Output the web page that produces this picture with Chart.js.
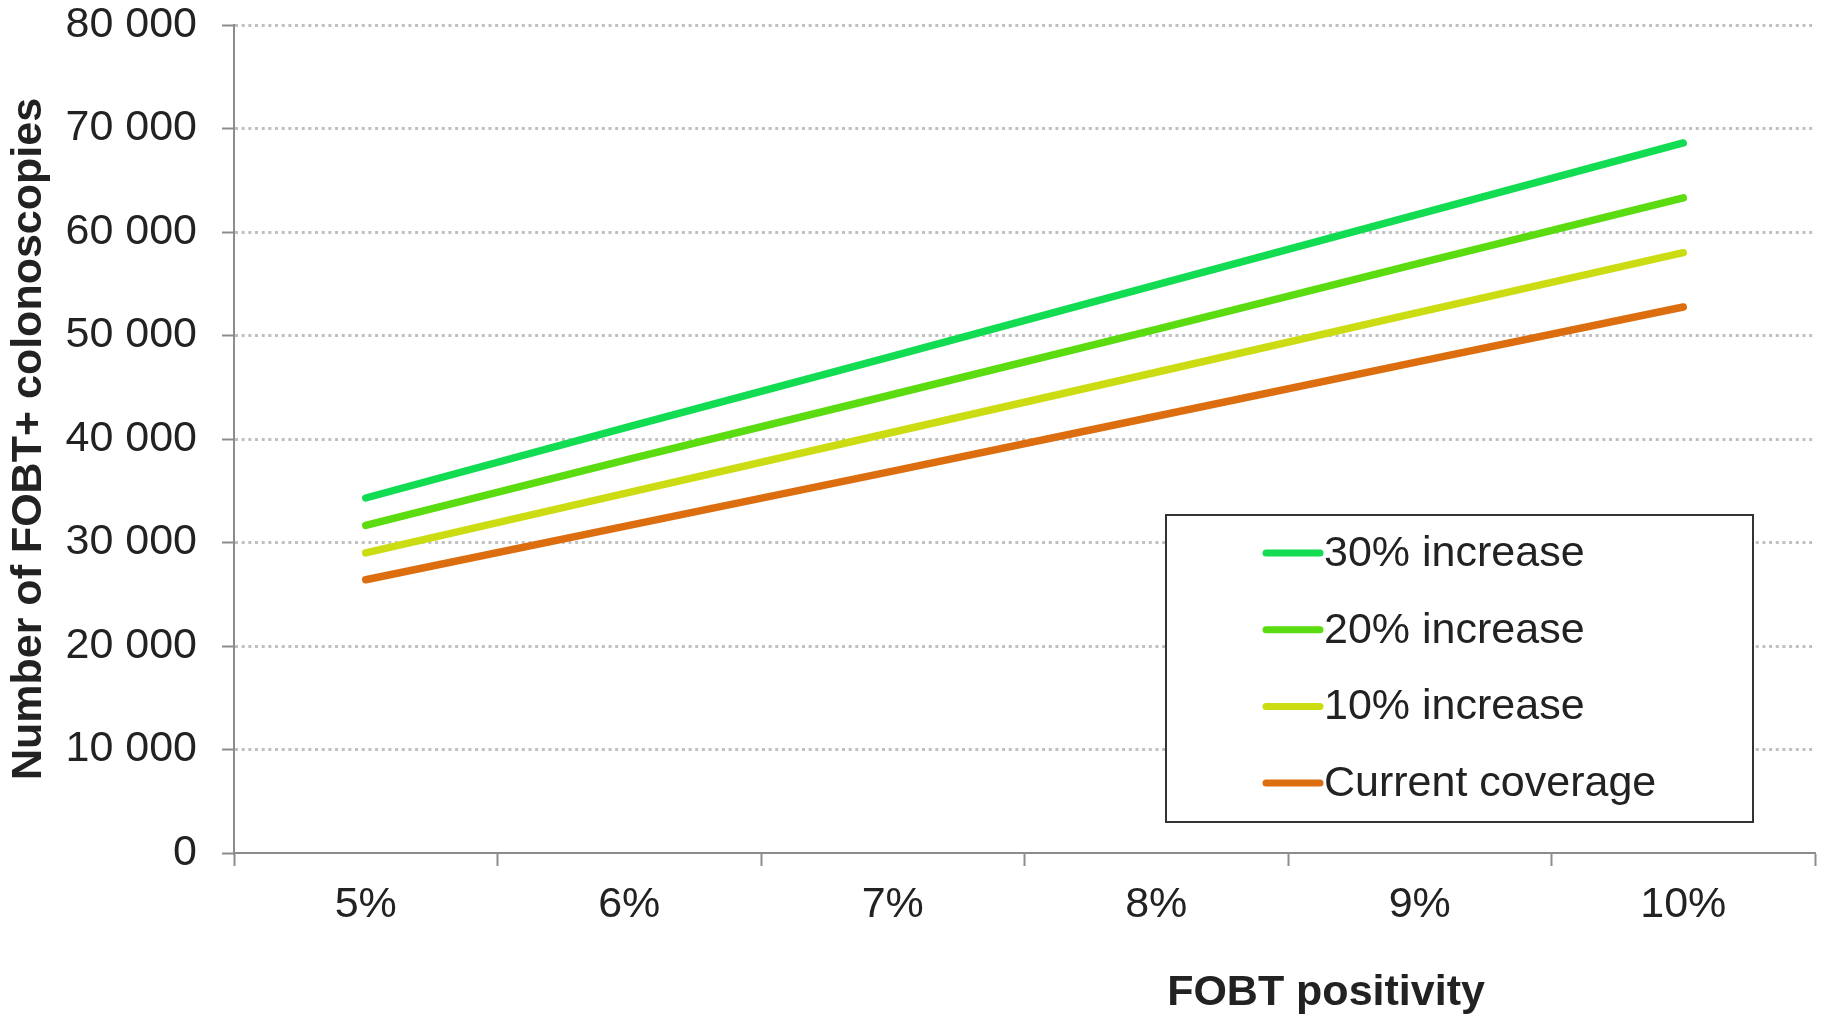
<!DOCTYPE html>
<html>
<head>
<meta charset="utf-8">
<title>FOBT+ colonoscopies by FOBT positivity</title>
<script src="https://cdn.jsdelivr.net/npm/chart.js@4/dist/chart.umd.min.js"></script>
<style>
  html, body { margin: 0; padding: 0; background: #ffffff; }
  #wrap { width: 1828px; height: 1016px; position: relative; }
</style>
</head>
<body>
<div id="wrap"><canvas id="chart"></canvas></div>
<script>
// Categories: FOBT positivity rate
const categories = ['5%', '6%', '7%', '8%', '9%', '10%'];

// Number of FOBT+ colonoscopies per coverage scenario
const seriesLabels = ['30% increase', '20% increase', '10% increase', 'Current coverage'];
const increase30 = [34300, 41200, 48000, 54900, 61750, 68600];
const increase20 = [31650, 38050, 44300, 50600, 57000, 63300];
const increase10 = [29000, 34850, 40650, 46450, 52250, 58000];
const currentCoverage = [26400, 31650, 36900, 42200, 47500, 52750];

// Value axis range
const yMin = 0;
const yMax = 80000;
const yStep = 10000;

const seriesColors = ['#12dc52', '#5adc10', '#ccdc12', '#dd6e10'];
const FONT = '"Liberation Sans", Arial, Helvetica, sans-serif';
const FONT_SIZE = 43;
const TEXT = '#222222';
const AXIS = '#8c8c8c';

function spaced(v) {
  return String(v).replace(/\B(?=(\d{3})+(?!\d))/g, ' ');
}

// Boxed legend inside the plot area, plus the x-axis title
const overlay = {
  id: 'overlay',
  afterDraw(chart) {
    const ctx = chart.ctx;
    const area = chart.chartArea;
    ctx.save();

    // x-axis title
    ctx.font = 'bold ' + FONT_SIZE + 'px ' + FONT;
    ctx.fillStyle = TEXT;
    ctx.textAlign = 'center';
    ctx.textBaseline = 'middle';
    ctx.fillText('FOBT positivity', area.left + (area.right - area.left) * 0.6907, 993);

    // legend box
    const bx = area.right - 649, by = 515, bw = 587, bh = 307;
    ctx.fillStyle = '#ffffff';
    ctx.fillRect(bx, by, bw, bh);
    ctx.lineWidth = 2;
    ctx.strokeStyle = '#333333';
    ctx.strokeRect(bx, by, bw, bh);

    ctx.font = FONT_SIZE + 'px ' + FONT;
    ctx.textAlign = 'left';
    chart.data.datasets.forEach((ds, i) => {
      const cy = by + 38 + i * 76.7;
      ctx.strokeStyle = ds.borderColor;
      ctx.lineWidth = 7;
      ctx.lineCap = 'round';
      ctx.beginPath();
      ctx.moveTo(bx + 100, cy);
      ctx.lineTo(bx + 154, cy);
      ctx.stroke();
      ctx.fillStyle = TEXT;
      ctx.fillText(ds.label, bx + 158, cy + 1);
    });
    ctx.restore();
  }
};

const seriesData = [increase30, increase20, increase10, currentCoverage];

new Chart(document.getElementById('chart'), {
  type: 'line',
  data: {
    labels: categories,
    datasets: seriesData.map((values, i) => ({
      label: seriesLabels[i],
      data: values,
      borderColor: seriesColors[i],
      backgroundColor: seriesColors[i],
      borderWidth: 7.5,
      borderCapStyle: 'round',
      borderJoinStyle: 'round',
      pointRadius: 0,
      pointHoverRadius: 0,
      tension: 0,
      fill: false
    }))
  },
  options: {
    responsive: true,
    maintainAspectRatio: false,
    animation: false,
    layout: { padding: { top: 25, right: 13, bottom: 0, left: 0 } },
    plugins: {
      legend: { display: false },
      tooltip: { enabled: false }
    },
    scales: {
      x: {
        type: 'category',
        offset: true,
        afterFit(scale) {
          scale.height = 163;
          scale.paddingLeft = 0;
          scale.paddingRight = 0;
        },
        grid: {
          offset: true,
          drawOnChartArea: false,
          drawTicks: true,
          tickLength: 13,
          tickColor: AXIS,
          tickWidth: 2
        },
        border: { display: true, color: AXIS, width: 2 },
        ticks: {
          color: TEXT,
          padding: 13,
          maxRotation: 0,
          font: { family: FONT, size: FONT_SIZE }
        }
      },
      y: {
        min: yMin,
        max: yMax,
        afterFit(scale) {
          scale.width = 234;
          scale.paddingTop = 0;
          scale.paddingBottom = 0;
        },
        grid: {
          color: (c) => c.tick && c.tick.value === 0 ? 'rgba(0,0,0,0)' : '#c0c0c0',
          lineWidth: 3,
          drawTicks: true,
          tickLength: 12,
          tickColor: AXIS,
          tickWidth: 2
        },
        border: { display: true, color: AXIS, width: 2, dash: [3, 3.67] },
        ticks: {
          stepSize: yStep,
          color: TEXT,
          padding: 25,
          font: { family: FONT, size: FONT_SIZE },
          callback: (v) => spaced(v)
        },
        title: {
          display: true,
          text: 'Number of FOBT+ colonoscopies',
          color: TEXT,
          padding: { top: 3, bottom: 0 },
          font: { family: FONT, size: FONT_SIZE, weight: 'bold' }
        }
      }
    }
  },
  plugins: [overlay]
});
</script>
</body>
</html>
